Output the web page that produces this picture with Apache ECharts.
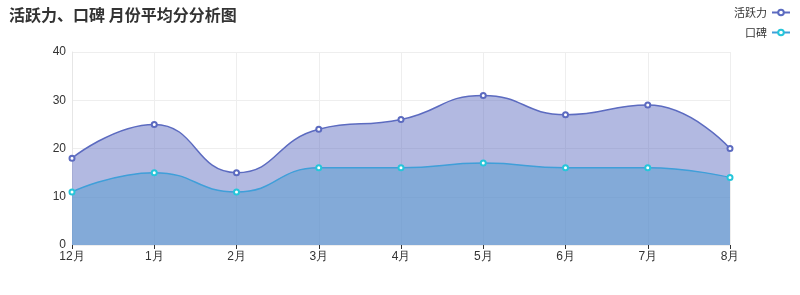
<!DOCTYPE html>
<html><head><meta charset="utf-8">
<script src="https://cdn.jsdelivr.net/npm/echarts@6/dist/echarts.min.js"></script>
<style>html,body{margin:0;padding:0;background:#fff}#c{width:800px;height:295px}</style>
</head><body><div id="c"></div>
<script>
const categories = ['12月','1月','2月','3月','4月','5月','6月','7月','8月'];
const activity = [18, 25, 15, 24, 26, 31, 27, 29, 20];
const reputation = [11, 15, 11, 16, 16, 17, 16, 16, 14];
const seriesNames = ['活跃力', '口碑'];

const chart = echarts.init(document.getElementById('c'));
chart.setOption({
  animation: false,
  title: {
    text: '活跃力、口碑 月份平均分分析图',
    left: 4, top: 2,
    textStyle: { fontFamily: 'Noto Sans CJK SC', fontSize: 16, fontWeight: 'bold', color: '#333' }
  },
  legend: {
    orient: 'vertical', right: 4, top: 2, align: 'right',
    itemWidth: 18, itemHeight: 7, itemGap: 9,
    textStyle: { fontFamily: 'Noto Sans CJK SC', fontSize: 11, color: '#333' },
    data: seriesNames
  },
  grid: { left: 72, right: 70, top: 52, bottom: 50 },
  xAxis: {
    type: 'category', boundaryGap: false, data: categories,
    axisLine: { show: false },
    axisTick: { show: true, length: 4, lineStyle: { color: '#333' } },
    axisLabel: { color: '#333', fontSize: 12, margin: 6 },
    splitLine: { show: true, lineStyle: { color: '#eee' } }
  },
  yAxis: {
    type: 'value', min: 0, max: 40, interval: 10,
    axisLine: { show: true, lineStyle: { color: '#e6e6e6' } },
    axisTick: { show: false },
    axisLabel: { color: '#333', fontSize: 12, margin: 6 },
    splitLine: { show: true, lineStyle: { color: '#eee' } }
  },
  series: [
    {
      name: seriesNames[0], type: 'line', smooth: true, data: activity,
      symbol: 'emptyCircle', symbolSize: 5,
      itemStyle: { color: '#5c6bc0' },
      lineStyle: { color: '#5c6bc0', width: 1.5 },
      areaStyle: { color: '#5c6bc0', opacity: 0.47 }
    },
    {
      name: seriesNames[1], type: 'line', smooth: true, data: reputation,
      symbol: 'emptyCircle', symbolSize: 5,
      itemStyle: { color: '#26c6da' },
      lineStyle: { color: '#3f9fd9', width: 1.5 },
      areaStyle: { color: '#559cd0', opacity: 0.5 }
    }
  ]
});
</script></body></html>
